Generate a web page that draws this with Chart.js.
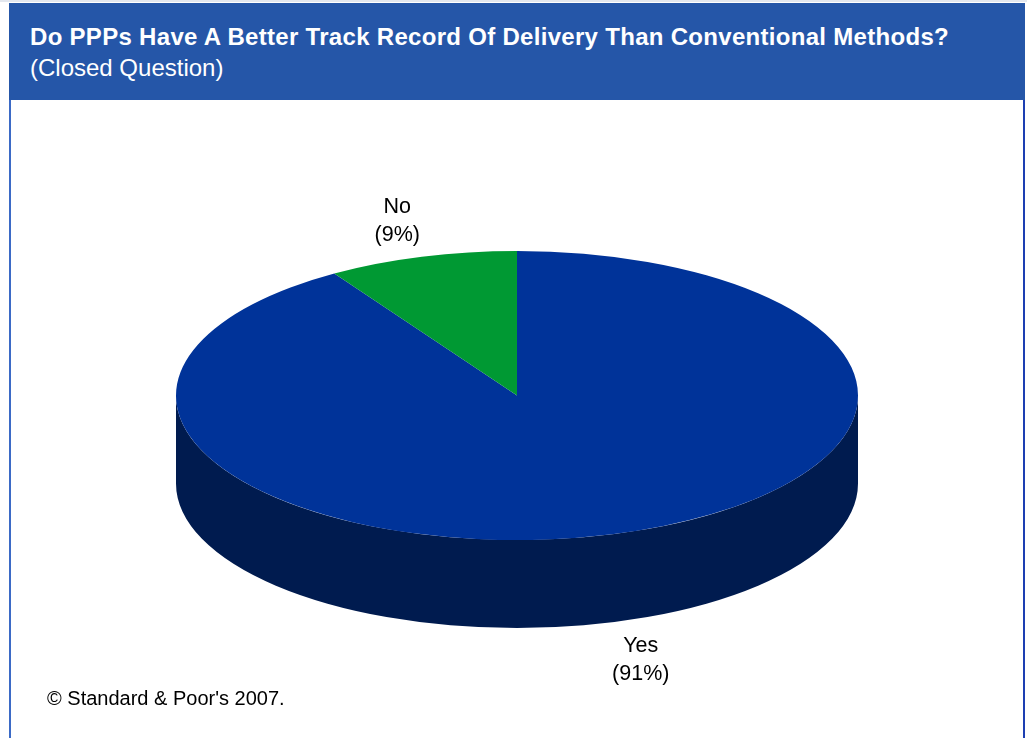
<!DOCTYPE html>
<html>
<head>
<meta charset="utf-8">
<script src="https://cdn.jsdelivr.net/npm/chart.js@4.4.1/dist/chart.umd.min.js"></script>
<style>
  html, body { margin: 0; padding: 0; background: #ffffff; }
  body { width: 1027px; height: 738px; position: relative; overflow: hidden;
         font-family: Arial, "Liberation Sans", sans-serif; }
  #topline { position: absolute; left: 0; top: 0; width: 1027px; height: 2px; background: #e3e7ee; }
  #header { position: absolute; left: 9px; top: 3px; width: 1016px; height: 97px; background: #2556a8; }
  #title { position: absolute; left: 21px; top: 20px; font-size: 24px; line-height: 28px; letter-spacing: 0.3px;
           font-weight: bold; color: #ffffff; white-space: nowrap; }
  #subtitle { position: absolute; left: 21px; top: 51px; font-size: 24px; line-height: 28px;
              color: #ffffff; white-space: nowrap; }
  #lborder { position: absolute; left: 9px; top: 100px; width: 2px; height: 638px; background: #3b6ac6; }
  #rborder { position: absolute; left: 1023px; top: 100px; width: 2px; height: 638px; background: #1d3fb2; }
  #footer { position: absolute; left: 47px; top: 686px; font-size: 20px; line-height: 24px; color: #000; white-space: nowrap; }
  #chart { position: absolute; left: 0; top: 0; }
</style>
</head>
<body>
<div id="topline"></div>
<div id="header">
  <div id="title">Do PPPs Have A Better Track Record Of Delivery Than Conventional Methods?</div>
  <div id="subtitle">(Closed Question)</div>
</div>
<div id="lborder"></div>
<div id="rborder"></div>
<canvas id="chart" width="1027" height="738"></canvas>
<div id="footer">© Standard &amp; Poor's 2007.</div>

<script>
// ---- data ----
const categories = ['Yes', 'No'];
const shares = [91, 9];
const shareLabels = ['(91%)', '(9%)'];

// ---- style ----
const topColors = ['#003399', '#009933'];
const sideColors = ['#001b4f', '#005a1e'];
const TILT = 144.5 / 341;   // vertical squash of the pie
const DEPTH = 88;           // thickness of the 3D side
const LABEL_FACTOR = 1.28;

const pie3d = {
  id: 'pie3d',
  beforeDatasetsDraw(chart) {
    const ctx = chart.ctx;
    const meta = chart.getDatasetMeta(0);
    // side walls (front half only)
    meta.data.forEach((arc, i) => {
      const p = arc.getProps(['x', 'y', 'startAngle', 'endAngle', 'outerRadius'], true);
      const R = p.outerRadius, ry = R * TILT;
      for (let k = -1; k <= 1; k++) {
        const lo = Math.max(p.startAngle, 2 * Math.PI * k);
        const hi = Math.min(p.endAngle, 2 * Math.PI * k + Math.PI);
        if (hi <= lo) continue;
        ctx.save();
        ctx.beginPath();
        ctx.ellipse(p.x, p.y, R, ry, 0, lo, hi, false);
        ctx.lineTo(p.x + R * Math.cos(hi), p.y + ry * Math.sin(hi) + DEPTH);
        ctx.ellipse(p.x, p.y + DEPTH, R, ry, 0, hi, lo, true);
        ctx.closePath();
        ctx.fillStyle = sideColors[i];
        ctx.fill();
        ctx.restore();
      }
    });
    // squash the top face
    const c = meta.data[0];
    ctx.save();
    ctx.translate(c.x, c.y);
    ctx.scale(1, TILT);
    ctx.translate(-c.x, -c.y);
  },
  afterDatasetsDraw(chart) {
    const ctx = chart.ctx;
    ctx.restore();
    const meta = chart.getDatasetMeta(0);
    ctx.save();
    ctx.fillStyle = '#000000';
    ctx.font = '21.5px Arial, "Liberation Sans", sans-serif';
    ctx.textAlign = 'center';
    ctx.textBaseline = 'alphabetic';
    meta.data.forEach((arc, i) => {
      const p = arc.getProps(['x', 'y', 'startAngle', 'endAngle', 'outerRadius'], true);
      const mid = (p.startAngle + p.endAngle) / 2;
      const R = p.outerRadius * LABEL_FACTOR;
      let lx = p.x + R * Math.cos(mid) + 2;
      let ly = p.y + R * TILT * Math.sin(mid);
      if (Math.sin(mid) > 0) ly += DEPTH - 4;
      ctx.fillText(categories[i], lx, ly - 5);
      ctx.fillText(shareLabels[i], lx, ly + 23);
    });
    ctx.restore();
  }
};

new Chart(document.getElementById('chart'), {
  type: 'pie',
  data: {
    labels: categories,
    datasets: [{
      data: shares,
      backgroundColor: topColors,
      borderWidth: 0
    }]
  },
  options: {
    responsive: false,
    animation: false,
    devicePixelRatio: 1,
    radius: 341,
    layout: { padding: { left: 7, right: 0, top: 53, bottom: 0 } },
    plugins: { legend: { display: false }, tooltip: { enabled: false }, title: { display: false } },
    events: []
  },
  plugins: [pie3d]
});
</script>
</body>
</html>
